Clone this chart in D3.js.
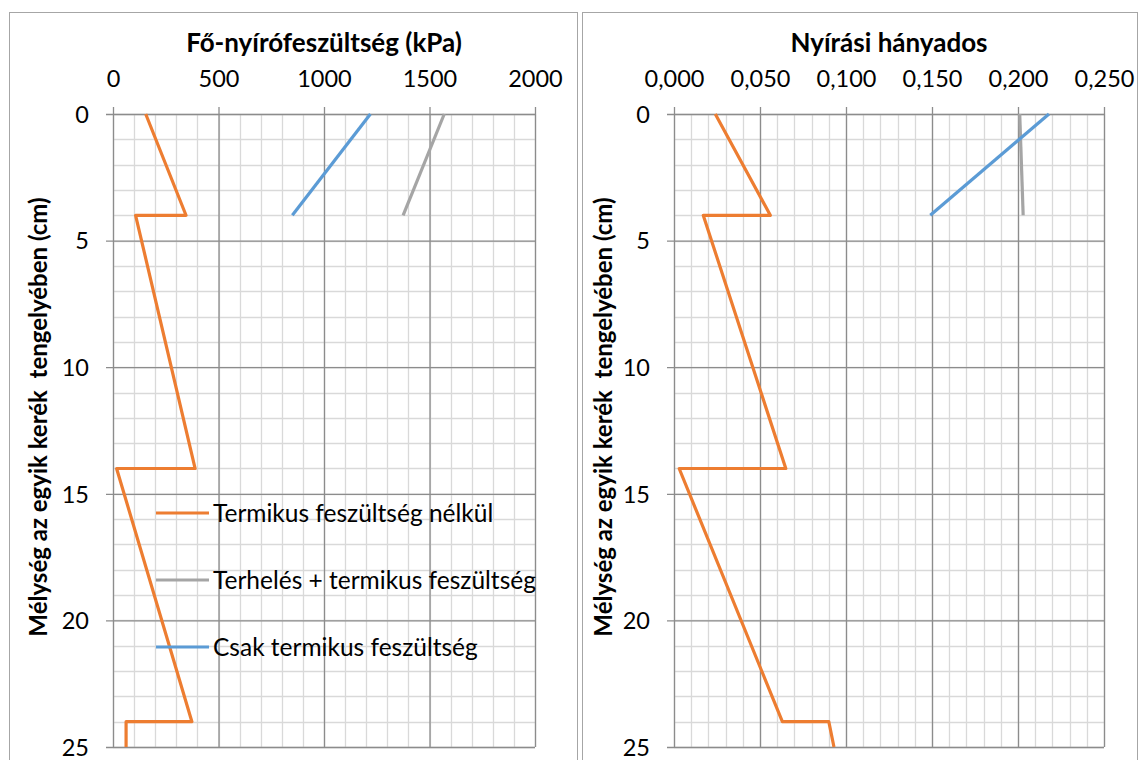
<!DOCTYPE html>
<html>
<head>
<meta charset="utf-8">
<script src="https://cdn.jsdelivr.net/npm/d3@7"></script>
<style>
  body { margin: 0; background: #fff; }
  svg { font-family: Lato, "Open Sans", sans-serif; }
</style>
</head>
<body>
<svg id="chart" width="1140" height="760"></svg>
<script>
// depth values (cm) shared by every series
var depths = [0, 4, 4, 14, 14, 24, 24, 25];
var depthsShort = [0, 4];

// left panel: Fő-nyírófeszültség (kPa)
var stressNoThermal = [155, 346, 107, 389, 17, 374, 62, 62];
var stressLoadThermal = [1570, 1375];
var stressThermalOnly = [1220, 850];

// right panel: Nyírási hányados
var ratioNoThermal = [0.024, 0.056, 0.017, 0.065, 0.003, 0.063, 0.090, 0.093];
var ratioLoadThermal = [0.201, 0.203];
var ratioThermalOnly = [0.218, 0.149];

var xTicksLeft = [0, 500, 1000, 1500, 2000];
var xTicksRight = [0, 0.05, 0.1, 0.15, 0.2, 0.25];
var yTicks = [0, 5, 10, 15, 20, 25];

var legendNames = ["Termikus feszültség nélkül", "Terhelés + termikus feszültség", "Csak termikus feszültség"];
var colors = ["#ED7D31", "#A5A5A5", "#5B9BD5"];

var yLabel = "Mélység az egyik kerék  tengelyében (cm)";

var svg = d3.select("#chart");
var huFormat = d3.formatLocale({decimal: ",", thousands: " ", grouping: [3], currency: ["", ""]});

function drawPanel(opt) {
    var g = svg.append("g");

    // panel border
    g.append("rect")
        .attr("x", opt.boxX + 0.5)
        .attr("y", 12.5)
        .attr("width", opt.boxW)
        .attr("height", 800)
        .attr("fill", "#fff")
        .attr("stroke", "#a6a6a6")
        .attr("stroke-width", 1);

    var x = d3.scaleLinear().domain(opt.xDomain).range([opt.left, opt.right]);
    var y = d3.scaleLinear().domain([0, 25]).range([114, 747]);

    // minor grid
    var minorX = d3.range(opt.xDomain[0], opt.xDomain[1] + opt.minorStep / 2, opt.minorStep);
    g.append("g").selectAll("line").data(minorX).enter().append("line")
        .attr("x1", function (d) { return Math.round(x(d)) + 0.5; })
        .attr("x2", function (d) { return Math.round(x(d)) + 0.5; })
        .attr("y1", y(0)).attr("y2", y(25))
        .attr("stroke", "#d9d9d9").attr("stroke-width", 1.3);
    g.append("g").selectAll("line").data(d3.range(0, 26, 1)).enter().append("line")
        .attr("y1", function (d) { return Math.round(y(d)) + 0.5; })
        .attr("y2", function (d) { return Math.round(y(d)) + 0.5; })
        .attr("x1", x(opt.xDomain[0])).attr("x2", x(opt.xDomain[1]))
        .attr("stroke", "#d9d9d9").attr("stroke-width", 1.3);

    // major grid + axes
    var xAxis = d3.axisTop(x).tickValues(opt.xTicks).tickSize(7).tickFormat(opt.fmt);
    var gx = g.append("g").attr("transform", "translate(0," + y(0) + ")").call(xAxis);
    gx.selectAll(".tick line").attr("y2", -7).attr("y1", y(25) - y(0));
    var yAxis = d3.axisLeft(y).tickValues(yTicks).tickSize(7).tickFormat(d3.format("d"));
    var gy = g.append("g").attr("transform", "translate(" + x(opt.xDomain[0]) + ",0)").call(yAxis);
    gy.selectAll(".tick line").attr("x2", -7).attr("x1", x(opt.xDomain[1]) - x(opt.xDomain[0]));

    [gx, gy].forEach(function (a) {
        a.select(".domain").remove();
        a.selectAll(".tick line").attr("stroke", "#8c8c8c").attr("stroke-width", 1.3);
        a.selectAll(".tick text")
            .attr("fill", "#000")
            .style("font-size", "23.5px")
            .style("font-family", "Lato, 'Open Sans', sans-serif");
    });
    gx.selectAll(".tick text").attr("y", -35).attr("dy", "0.35em");
    gy.selectAll(".tick text").attr("x", -24).attr("dy", "0.35em");

    // title
    g.append("text")
        .attr("x", (opt.left + opt.right) / 2)
        .attr("y", 52)
        .attr("text-anchor", "middle")
        .style("font-size", "26px")
        .style("font-weight", "bold")
        .text(opt.title);

    // y label
    g.append("text")
        .attr("transform", "translate(" + opt.yLabelX + ",417) rotate(-90)")
        .attr("text-anchor", "middle")
        .style("font-size", "24px")
        .style("font-weight", "bold")
        .style("white-space", "pre")
        .text(yLabel);

    var line = d3.line()
        .x(function (d) { return x(d[0]); })
        .y(function (d) { return y(d[1]); });

    opt.series.forEach(function (s, i) {
        var ds = s.length === depths.length ? depths : depthsShort;
        var pts = s.map(function (v, j) { return [v, ds[j]]; });
        g.append("path")
            .datum(pts)
            .attr("d", line)
            .attr("fill", "none")
            .attr("stroke", colors[i])
            .attr("stroke-width", 3.2)
            .attr("stroke-linejoin", "round");
    });
}

drawPanel({
    boxX: 9, boxW: 568, left: 113, right: 535,
    xDomain: [0, 2000], minorStep: 100, xTicks: xTicksLeft,
    fmt: d3.format("d"), title: "Fő-nyírófeszültség (kPa)", yLabelX: 47,
    series: [stressNoThermal, stressLoadThermal, stressThermalOnly]
});

drawPanel({
    boxX: 582, boxW: 555, left: 674, right: 1104,
    xDomain: [0, 0.25], minorStep: 0.01, xTicks: xTicksRight,
    fmt: huFormat.format(".3f"), title: "Nyírási hányados", yLabelX: 612,
    series: [ratioNoThermal, ratioLoadThermal, ratioThermalOnly]
});

// legend (inside left panel)
var legend = svg.append("g");
legendNames.forEach(function (name, i) {
    var ly = 513 + i * 67;
    legend.append("line")
        .attr("x1", 156).attr("x2", 209)
        .attr("y1", ly).attr("y2", ly)
        .attr("stroke", colors[i]).attr("stroke-width", 3.2);
    legend.append("text")
        .attr("x", 213).attr("y", ly)
        .attr("dy", "0.35em")
        .style("font-size", "24.5px")
        .text(name);
});
</script>
</body>
</html>
